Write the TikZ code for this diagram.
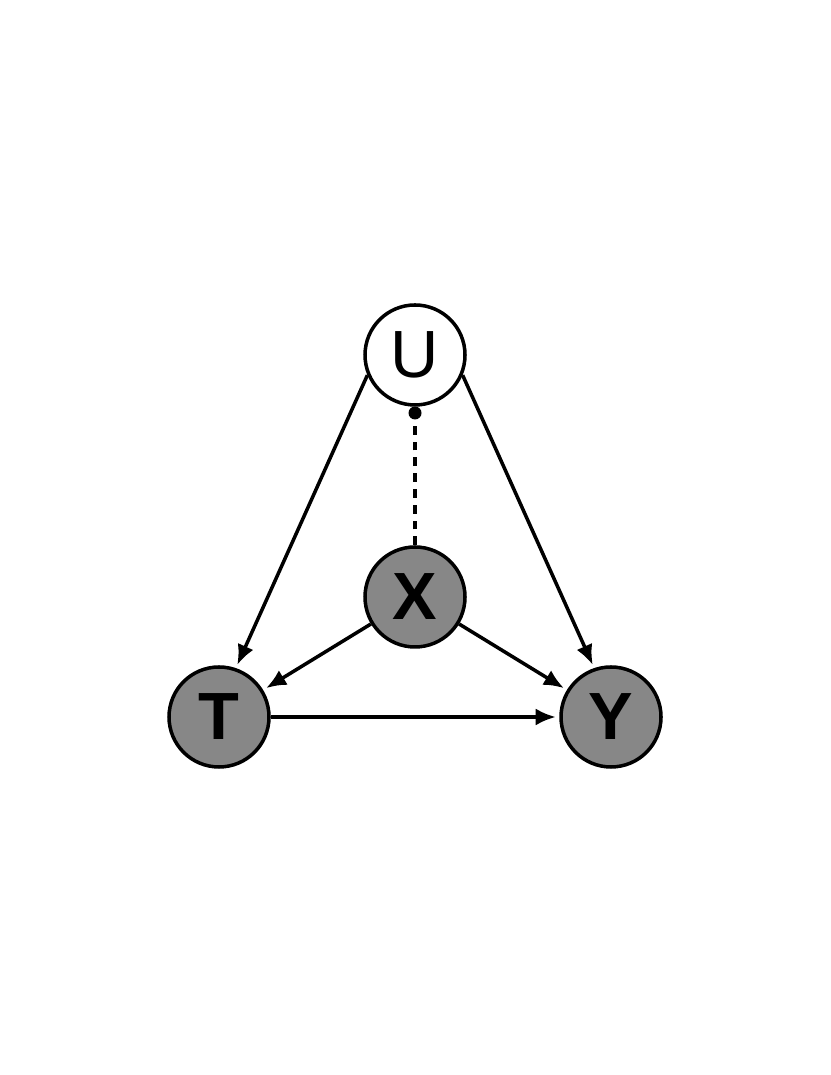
\documentclass[tikz,border=0pt]{standalone}
\usepackage{fontspec}
\setmainfont{Liberation Sans}
\usetikzlibrary{arrows.meta}
\tikzset{
  var/.style={circle,draw,line width=1pt,minimum size=1cm,inner sep=0pt,font=\fontsize{19}{19}\selectfont},
  obs/.style={var,fill=black!47,font=\fontsize{19}{19}\selectfont\bfseries},
  edge/.style={line width=1pt,-{Latex[length=0.2cm,width=0.17cm]},shorten >=1pt}
}
\begin{document}
\begin{tikzpicture}
\useasboundingbox (0,0) rectangle (8.3,10.75);
\node[var] (U) at(4.15,7.2){U};
\node[obs] (X) at(4.15,4.78){X};
\node[obs] (T) at(2.19,3.58){T};
\node[obs] (Y) at(6.11,3.58){Y};
\coordinate (udot) at(4.15,6.62);
\draw[edge] (U.203) -- (T.71);
\draw[edge] (U.-23) -- (Y.109);
\draw[edge] (X) -- (T);
\draw[edge] (X) -- (Y);
\draw[edge] (T) -- (Y);
\draw[line width=1pt,dashed,dash pattern=on 2.5pt off 2pt] (X) -- (udot);
\fill (udot) circle(0.065);
\end{tikzpicture}
\end{document}
